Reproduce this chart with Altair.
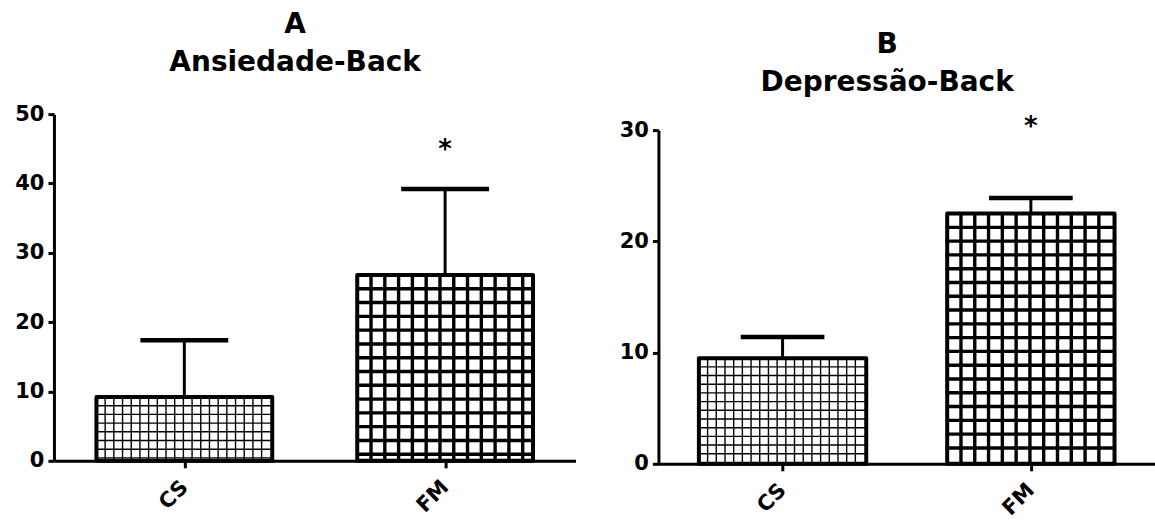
import json
import altair as alt
import pandas as pd

# ---------------- data ----------------
categories = ["CS", "FM"]

ansiedade_mean = [9.2, 26.8]
ansiedade_err = [8.2, 12.4]
ansiedade_sig = ["", "*"]
ansiedade_sig_y = [None, 44.8]

depressao_mean = [9.5, 22.5]
depressao_err = [1.9, 1.4]
depressao_sig = ["", "*"]
depressao_sig_y = [None, 30.3]

# ---------------- style ----------------
FONT = "DejaVu Sans"
BAR_HALF = 0.337          # half bar width in category units
HATCH_PITCH = [8.7, 13.8]  # px, per category (fine grid / coarse grid)
HATCH_WIDTH = [1.4, 3.4]   # px


def hatch_tables(centers, means, width_px, height_px, ymax):
    px_x = width_px / 2.0
    px_y = height_px / ymax
    vert, horiz = [], []
    for c, v, p, w in zip(centers, means, HATCH_PITCH, HATCH_WIDTH):
        left, right = c - BAR_HALF, c + BAR_HALF
        step = p / px_x
        x = left + step
        while x < right - step * 0.3:
            vert.append({"x": x, "y": 0.0, "y2": v, "sw": w})
            x += step
        step = p / px_y
        y = v - step
        while y > step * 0.3:
            horiz.append({"x": left, "x2": right, "y": y, "sw": w})
            y -= step
    return pd.DataFrame(vert), pd.DataFrame(horiz)


def panel(title_lines, means, errs, sig, sig_y, ymax, ystep, width, height,
          range_top, title_offset):
    centers = [i + 0.5 for i in range(len(categories))]
    df = pd.DataFrame({
        "cat": categories,
        "c": centers,
        "left": [c - BAR_HALF for c in centers],
        "right": [c + BAR_HALF for c in centers],
        "cap_l": [c - BAR_HALF / 2 for c in centers],
        "cap_r": [c + BAR_HALF / 2 for c in centers],
        "mean": means,
        "top": [m + e for m, e in zip(means, errs)],
    })
    sig_df = pd.DataFrame({"c": centers, "sig": sig, "y": sig_y}).dropna()

    xs = alt.Scale(domain=[0, len(categories)], nice=False, zero=False)
    ys = alt.Scale(domain=[0, ymax], range=[height, range_top], nice=False)
    label_expr = json.dumps(categories) + "[floor(datum.value)]"

    x_axis = alt.Axis(values=centers, labelExpr=label_expr, labelAngle=-45,
                      labelAlign="right", labelBaseline="middle",
                      labelPadding=16, tickSize=7, title=None)
    y_axis = alt.Axis(values=list(range(0, ymax + 1, ystep)), tickSize=6,
                      labelPadding=4, title=None, format="d")

    def X(f):
        return alt.X(f, scale=xs, axis=x_axis)

    def Y(f):
        return alt.Y(f, scale=ys, axis=y_axis)

    base = alt.Chart(df)
    fill = base.mark_bar(fill="white", stroke=None).encode(
        x=X("left:Q"), x2="right:Q", y=Y("mean:Q"), y2=alt.datum(0),
    )

    vdf, hdf = hatch_tables(centers, means, width, height - range_top, ymax)
    hv = alt.Chart(vdf).mark_rule(color="black").encode(
        x=X("x:Q"), y=Y("y:Q"), y2="y2:Q",
        strokeWidth=alt.StrokeWidth("sw:Q", scale=None),
    )
    hh = alt.Chart(hdf).mark_rule(color="black").encode(
        x=X("x:Q"), x2="x2:Q", y=Y("y:Q"),
        strokeWidth=alt.StrokeWidth("sw:Q", scale=None),
    )
    outline = base.mark_bar(fill=None, stroke="black", strokeWidth=4,
                            strokeJoin="round").encode(
        x=X("left:Q"), x2="right:Q", y=Y("mean:Q"), y2=alt.datum(0),
    )
    stem = base.mark_rule(color="black", strokeWidth=3).encode(
        x=X("c:Q"), y=Y("mean:Q"), y2="top:Q",
    )
    cap = base.mark_rule(color="black", strokeWidth=4.5).encode(
        x=X("cap_l:Q"), x2="cap_r:Q", y=Y("top:Q"),
    )
    star = alt.Chart(sig_df).mark_text(font=FONT, fontSize=26, fontWeight="bold",
                                        color="black", baseline="middle").encode(
        x=X("c:Q"), y=Y("y:Q"), text="sig:N",
    )

    return alt.layer(fill, hv, hh, outline, stem, cap, star).properties(
        width=width, height=height,
        title=alt.TitleParams(text=title_lines, font=FONT, fontSize=28,
                              fontWeight="bold", color="black", anchor="middle",
                              frame="bounds", lineHeight=38,
                              offset=title_offset),
    )


a = panel(["A", "Ansiedade-Back"], ansiedade_mean, ansiedade_err,
          ansiedade_sig, ansiedade_sig_y, 50, 10, 522, 347, 0, 26)
b = panel(["B", "Depressão-Back"], depressao_mean, depressao_err,
          depressao_sig, depressao_sig_y, 30, 10, 497, 350, 16, 17)

chart = alt.hconcat(a, b, spacing=43).properties(
    padding={"left": 14, "top": 11, "right": 0, "bottom": 0},
    background="white",
).configure_view(stroke=None).configure_axis(
    domainColor="black", domainWidth=3, tickColor="black", tickWidth=3,
    labelFont=FONT, labelFontSize=21, labelFontWeight="bold",
    labelColor="black", grid=False,
)

chart.save("out.html", embed_options={"renderer": "svg", "actions": False})
